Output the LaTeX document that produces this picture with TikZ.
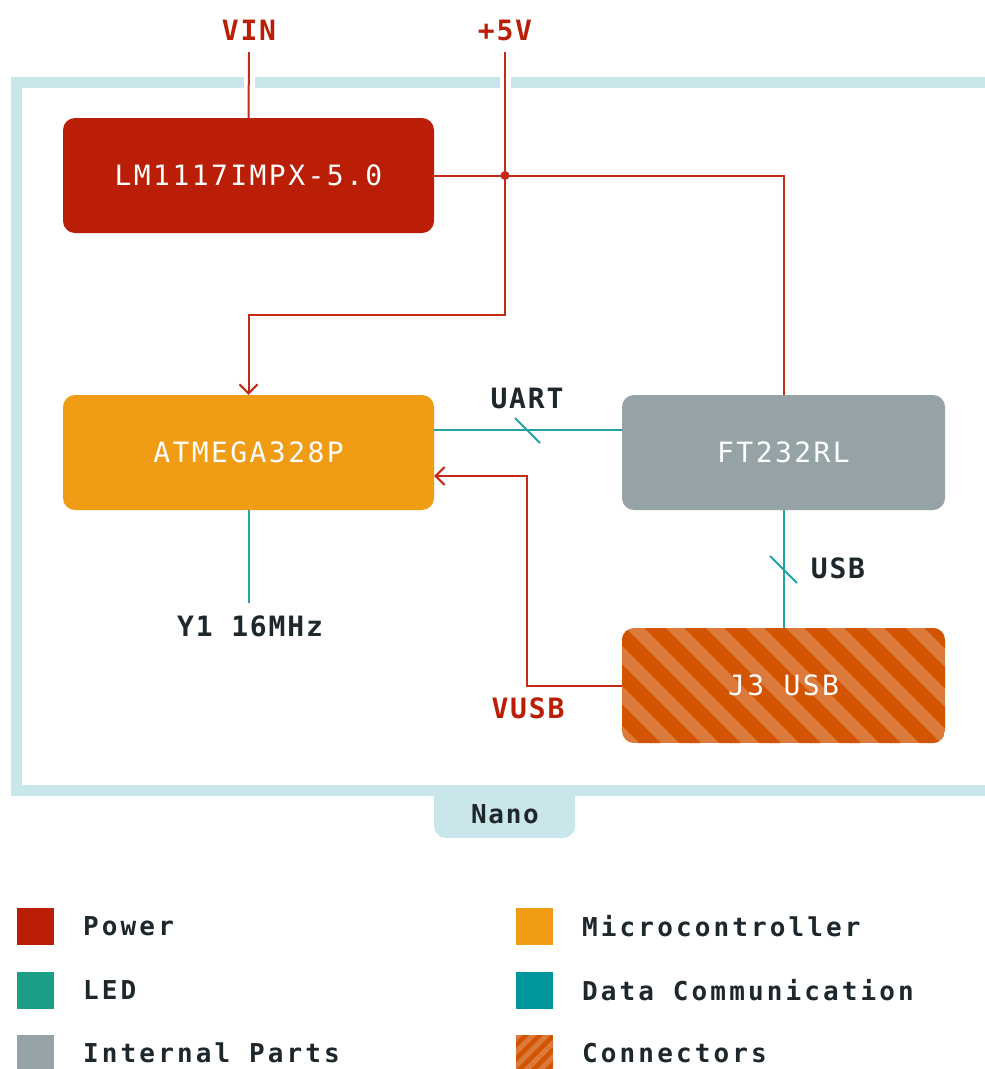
\documentclass[tikz,border=0pt]{standalone}
\usepackage{fontspec}
\setmainfont{DejaVu Sans Mono}
\newfontfamily\boxfont[LetterSpace=8.7]{DejaVu Sans Mono}
\newfontfamily\labfont[LetterSpace=6.5]{DejaVu Sans Mono}
\newfontfamily\legfont[LetterSpace=12]{DejaVu Sans Mono}
\usetikzlibrary{arrows.meta}
\definecolor{framec}{HTML}{C9E6EB}
\definecolor{pwr}{HTML}{BB1E06}
\definecolor{wirered}{HTML}{C42A16}
\definecolor{mcu}{HTML}{F09C14}
\definecolor{intp}{HTML}{95A3A6}
\definecolor{ledc}{HTML}{1A9E85}
\definecolor{datac}{HTML}{00979C}
\definecolor{wireteal}{HTML}{22A4A7}
\definecolor{condark}{HTML}{D35400}
\definecolor{conlight}{HTML}{DC7A3C}
\definecolor{txt}{HTML}{1E272B}
\tikzset{
  blk/.style={rectangle, rounded corners=12pt, minimum width=371pt, minimum height=115pt, inner sep=0pt, text=white, font=\boxfont\fontsize{28}{30}\selectfont},
  redlab/.style={text=pwr, font=\labfont\bfseries\fontsize{28}{30}\selectfont, inner sep=0pt},
  blklab/.style={text=txt, font=\labfont\bfseries\fontsize{28}{30}\selectfont, inner sep=0pt},
  legtxt/.style={text=txt, font=\legfont\bfseries\fontsize{26}{28}\selectfont, anchor=west, inner sep=0pt},
  redwire/.style={draw=wirered, line width=2pt},
  tealwire/.style={draw=wireteal, line width=2pt},
  arr/.style={-{Straight Barb[length=9pt,width=18pt,line width=2pt]}},
  legsq/.style={rectangle, minimum width=37pt, minimum height=37pt, inner sep=0pt}
}
\begin{document}
\begin{tikzpicture}[x=1pt,y=-1pt]
\useasboundingbox (0,0) rectangle (985,1069);
\clip (0,0) rectangle (985,1069);
\fill[white] (0,0) rectangle (985,1069);
% frame
\draw[framec, line width=11pt, line join=miter] (1100,82.5) -- (16.5,82.5) -- (16.5,790.5) -- (1100,790.5);
\fill[framec] (434,785) rectangle (575,826);
\fill[framec, rounded corners=12pt] (434,800) rectangle (575,838);
\node[text=txt, font=\labfont\bfseries\fontsize{26}{28}\selectfont, inner sep=0pt] (nano) at (505,814) {Nano};
% gaps in frame where wires cross
\fill[white] (243.5,76) rectangle (254.5,89);
\fill[white] (499.5,76) rectangle (510.5,89);
% blocks
\node[blk, fill=pwr] (lm) at (248.5,175.5) {LM1117IMPX-5.0};
\node[blk, fill=mcu] (atm) at (248.5,452.5) {ATMEGA328P};
\node[blk, fill=intp, minimum width=323pt] (ft) at (783.5,452.5) {FT232RL};
\begin{scope}
  \clip[rounded corners=12pt] (622,628) rectangle (945,743);
  \fill[conlight] (622,628) rectangle (945,743);
  \foreach \k in {-5,...,9} \draw[condark, line width=15pt] (635+40*\k,608) -- ++(160,160);
\end{scope}
\node[blk, minimum width=323pt] (j3) at (783.5,685.5) {J3 USB};
% labels
\node[redlab] (vin) at (249,30) {VIN};
\node[redlab] (p5) at (505,30) {+5V};
\node[blklab] (uart) at (527,398) {UART};
\node[blklab] (usb) at (838,568) {USB};
\node[redlab] (vusb) at (528,708) {VUSB};
\node[blklab] (y1) at (250,626) {Y1 16MHz};
\coordinate (vinend) at (249,52);
\coordinate (p5end) at (505,52);
\coordinate (jn) at (505,175.5);
\coordinate (y1end) at (248.5,603);
% wires
\draw[redwire] (vinend) -- (lm.north);
\draw[redwire] (lm.east) -| (ft.north);
\draw[redwire, arr] (p5end) -- (505,315) -| (atm.north);
\fill[wirered] (jn) circle (4.5pt);
\draw[redwire, arr] (j3.west) -- ++(-95,0) |- ([yshift=-23.5pt]atm.east);
\draw[tealwire] ([yshift=22.5pt]atm.east) -- ([yshift=22.5pt]ft.west);
\draw[tealwire] (515,418) -- (540,443);
\draw[tealwire] (ft.south) -- (j3.north);
\draw[tealwire] (770,556) -- (797,583);
\draw[tealwire] (atm.south) -- (y1end);
% legend
\node[legsq, fill=pwr] (l1) at (35.5,926) {};
\node[legtxt] (t1) at (83,926) {Power};
\node[legsq, fill=ledc] (l2) at (35.5,990) {};
\node[legtxt] (t2) at (83,990) {LED};
\node[legsq, fill=intp] (l3) at (35.5,1053.5) {};
\node[legtxt] (t3) at (83,1053) {Internal Parts};
\node[legsq, fill=mcu] (l4) at (534.5,926) {};
\node[legtxt] (t4) at (582,926) {Microcontroller};
\node[legsq, fill=datac] (l5) at (534.5,990) {};
\node[legtxt] (t5) at (582,990) {Data Communication};
\begin{scope}
  \clip (516,1035) rectangle (553,1072);
  \fill[condark] (516,1035) rectangle (553,1072);
  \foreach \k in {0,...,6} \draw[conlight, line width=5pt] (460+14*\k,1080) -- ++(50,-50);
\end{scope}
\node[legsq] (l6) at (534.5,1053.5) {};
\node[legtxt] (t6) at (582,1053) {Connectors};
\end{tikzpicture}
\end{document}
